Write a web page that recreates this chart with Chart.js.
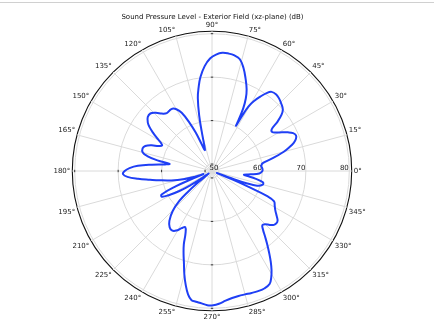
<!DOCTYPE html>
<html>
<head>
<meta charset="utf-8">
<script src="https://cdn.jsdelivr.net/npm/chart.js@4.4.1/dist/chart.umd.min.js"></script>
<style>
  html, body { margin: 0; padding: 0; background: #fff; }
  #wrap { width: 434px; height: 327px; }
</style>
</head>
<body>
<div id="wrap"><canvas id="polarChart"></canvas></div>
<script>
const chartTitle = 'Sound Pressure Level - Exterior Field (xz-plane) (dB)';

// angle ticks (deg, counter-clockwise from +x) and radial ticks (dB)
const angleTicks = [0, 15, 30, 45, 60, 75, 90, 105, 120, 135, 150, 165,
                    180, 195, 210, 225, 240, 255, 270, 285, 300, 315, 330, 345];
const radialTicks = [50, 60, 70, 80];
const rMin = 48.4;
const rMax = 80.55;
const angleStep = 0.5;

// curve: angle (deg) and level (dB)
const angles = [0, 3, 6, 9, 12, 15, 17, 19, 21, 23, 25, 27, 29, 31, 33, 35, 37, 39, 41, 44,
  47, 50, 53, 55, 57, 59, 60.5, 61.5, 62, 62.5, 63.5, 65, 67, 70, 73, 76, 79, 82, 85, 88,
  91, 94, 97, 99, 101, 103, 105, 107, 109, 111, 113, 115, 117.5, 120, 122.5, 125, 128, 131, 134, 137,
  140, 143, 145, 147, 149, 151, 153, 155, 157, 159.5, 162, 165, 167, 169, 170.5, 172, 174, 176, 178, 180,
  182, 184, 186, 188, 190, 193, 196, 198.5, 200, 201.5, 203, 205, 207, 209, 211.5, 213.5, 215.5, 217.5, 219.5, 221,
  222.5, 225.5, 229.5, 233, 236, 239, 242, 244.5, 247, 249, 251, 253, 255, 257, 259, 261, 263, 265, 268, 270.5,
  273, 276, 279, 282, 285, 288, 291, 294, 297, 299, 301, 303, 305, 307, 309, 311, 313, 315, 317, 319,
  321, 323, 325, 328, 331, 334, 335.5, 336.5, 337.5, 338.5, 339.5, 340.5, 342, 345, 347.5, 350, 352, 353.5, 355, 357];
const levels = [60, 60, 59.8, 60.3, 62.8, 65.5, 67, 68.3, 69.1, 69.4, 69, 68, 66.8, 65.6, 64.9, 65.2, 67.3, 69, 70, 70.6,
  71.1, 71.4, 71.2, 70.3, 68.8, 67.2, 65.5, 62.5, 60.2, 61.5, 64.5, 66.8, 68.8, 71, 73.2, 74.9, 75.5, 75.7, 75.7, 75.2,
  74.3, 72.6, 70.2, 68, 65.5, 61.5, 57, 54.3, 53.5, 55, 58, 60.7, 63.5, 64.8, 65.4, 65.4, 65.3, 65.9, 67, 67.8,
  67.7, 66.9, 65.9, 64.6, 63.2, 61.9, 61.3, 62, 63.5, 64.8, 65.2, 64.9, 63.7, 61.2, 58.3, 59.3, 62.3, 65.5, 67.4, 68.5,
  68.9, 67.9, 65.5, 62.8, 60.7, 58, 55.3, 52.5, 50.5, 53, 57.5, 61.2, 61.4, 60, 57.2, 54, 51, 49.4, 52.5, 56,
  58.6, 61.3, 63.5, 64.6, 64.9, 64.4, 63.3, 62.7, 64, 66.5, 68.5, 70.5, 73, 75.3, 77.3, 78.5, 78.7, 78.9, 79.3, 79.3,
  79, 78.4, 78, 77.8, 77.8, 77.9, 78, 78, 77.6, 76.5, 75, 73.2, 71.3, 69.5, 67.8, 66.3, 65.4, 65.7, 66.6, 67.3,
  67.5, 67.3, 66.6, 65.6, 64.9, 64.3, 62.5, 58, 52.5, 49.6, 53, 56.8, 59.3, 60.5, 60.4, 58.5, 56.5, 55.8, 57.3, 59.3];

// radar spokes run clockwise from the top, so walk the angles backwards from 0
const categories = [];
const values = [];
for (let i = 0; i < 360 / angleStep; i++) {
  categories.push((360 - i * angleStep) % 360);
  values.push(null);
}
angles.forEach((a, k) => {
  const i = Math.round(((360 - a) % 360) / angleStep);
  values[i] = levels[k];
});

Chart.defaults.font.family = "'DejaVu Sans', sans-serif";
Chart.defaults.color = '#222';

const gridGray = '#dadada';

const radialLabels = {
  id: 'radialLabels',
  beforeDraw(chart) {
    const c = chart.ctx;
    c.save();
    c.strokeStyle = '#d0d0d0';
    c.lineWidth = 1;
    c.beginPath();
    c.moveTo(0, 2.5);
    c.lineTo(chart.width, 2.5);
    c.stroke();
    c.restore();
  },
  beforeDatasetsDraw(chart) {
    const s = chart.scales.r;
    const c = chart.ctx;
    c.save();
    c.font = '7px "DejaVu Sans"';
    c.fillStyle = '#222';
    c.textAlign = 'right';
    c.textBaseline = 'alphabetic';
    radialTicks.forEach(v => {
      const d = s.getDistanceFromCenterForValue(v);
      c.fillText(String(v), s.xCenter + d - 0.5, s.yCenter - 1);
    });
    // little tick marks on the 90, 180 and 270 spokes
    c.strokeStyle = '#333';
    c.lineWidth = 1;
    [90, 180, 270].forEach(a => {
      const rad = a * Math.PI / 180;
      radialTicks.forEach(v => {
        const d = s.getDistanceFromCenterForValue(v);
        const x = s.xCenter + d * Math.cos(rad);
        const y = s.yCenter - d * Math.sin(rad);
        const px = Math.sin(rad), py = Math.cos(rad);
        c.beginPath();
        c.moveTo(x - px * 1.2, y - py * 1.2);
        c.lineTo(x + px * 1.2, y + py * 1.2);
        c.stroke();
      });
    });
    c.restore();
  }
};

new Chart(document.getElementById('polarChart'), {
  type: 'radar',
  data: {
    labels: categories,
    datasets: [{
      label: 'SPL',
      data: values,
      borderColor: '#1f3ff5',
      borderWidth: 2,
      fill: false,
      pointRadius: 0,
      pointHoverRadius: 0,
      tension: 0.4,
      spanGaps: true
    }]
  },
  options: {
    responsive: true,
    maintainAspectRatio: false,
    devicePixelRatio: 1,
    animation: false,
    layout: { padding: { left: 0, right: 9, top: 0, bottom: 5 } },
    plugins: {
      legend: { display: false },
      tooltip: { enabled: false },
      title: {
        display: true,
        text: chartTitle,
        color: '#111',
        font: { size: 7, weight: 'normal' },
        padding: { top: 12.5, bottom: 0 }
      }
    },
    scales: {
      r: {
        min: rMin,
        max: rMax,
        startAngle: 90,
        afterBuildTicks: s => {
          s.ticks = [rMin, ...radialTicks, rMax].map(v => ({ value: v }));
        },
        ticks: { display: false },
        grid: {
          circular: true,
          color: ctx => (ctx.tick && ctx.tick.value === rMax) ? '#111' : gridGray,
          lineWidth: ctx => (ctx.tick && ctx.tick.value === rMax) ? 1.1 : 1
        },
        angleLines: {
          color: gridGray,
          lineWidth: ctx => angleTicks.includes(categories[ctx.index]) ? 1 : 0
        },
        pointLabels: {
          padding: 2,
          color: '#222',
          font: { size: 7 },
          callback: label => angleTicks.includes(label) ? label + '°' : ''
        }
      }
    }
  },
  plugins: [radialLabels]
});
</script>
</body>
</html>
